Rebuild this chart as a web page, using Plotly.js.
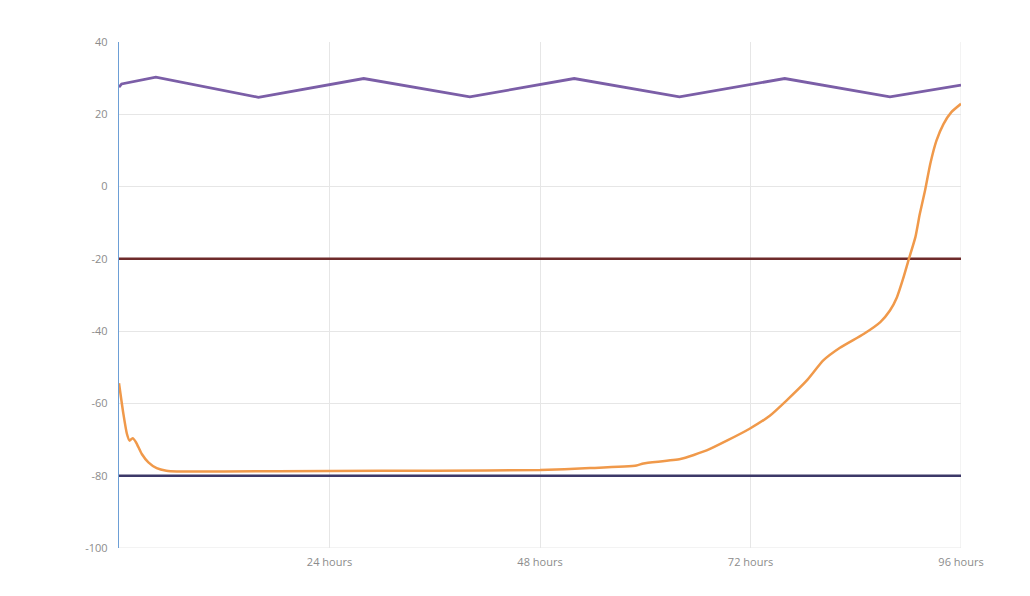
<!DOCTYPE html>
<html>
<head>
<meta charset="utf-8">
<script src="https://cdn.plot.ly/plotly-3.0.1.min.js"></script>
<style>
  html, body { margin: 0; padding: 0; background: #fff; }
  #chart { width: 1030px; height: 596px; }
</style>
</head>
<body>
<div id="chart"></div>
<script>
'use strict';

/* ============================================================
   DATA
   ============================================================ */
var purpleHours  = [0, 0.3, 4.2, 15.9, 27.9, 40.0, 51.9, 63.9, 75.9, 87.9, 96];
var purpleValues = [27.5, 28.4, 30.3, 24.7, 29.9, 24.8, 29.9, 24.8, 29.9, 24.8, 28.1];

var orangeHours  = [0, 0.5, 0.9, 1.2, 1.55, 1.95, 2.6, 3.35, 4.3, 5.4, 6.6, 12, 24, 36,
                    48, 53.7, 59, 59.8, 64, 67, 69.3, 71.9, 74.2, 76.1, 78.4, 80.3,
                    82.2, 84.9, 86.8, 87.9, 88.7, 89.4, 90.0, 90.8, 91.3, 91.9, 92.5,
                    93.2, 94.0, 94.9, 96];
var orangeValues = [-54.4, -62.9, -68.4, -70.3, -69.6, -70.8, -74, -76.3, -77.9, -78.6,
                    -78.8, -78.8, -78.7, -78.6, -78.4, -77.9, -77.2, -76.6, -75.4, -73,
                    -70.3, -67, -63.4, -59.2, -53.7, -48.1, -44.6, -40.8, -37.5, -34.3,
                    -30.6, -25.5, -20.5, -14, -7.6, -1.1, 6.3, 12.7, 17.3, 20.6, 22.9];

var upperLimit   = -20;
var lowerLimit   = -80;
var rangeHours   = [0, 96];

var tickHours    = [24, 48, 72, 96];
var tickLabels   = ['24 hours', '48 hours', '72 hours', '96 hours'];
var yTicks       = [-100, -80, -60, -40, -20, 0, 20, 40];

/* ============================================================
   CHART
   ============================================================ */
var labelFont = { family: 'Open Sans, sans-serif', size: 11, color: '#8c8c8c' };

Plotly.newPlot('chart', [
  { x: rangeHours, y: [upperLimit, upperLimit], type: 'scatter', mode: 'lines',
    line: { color: '#6e2b2b', width: 2.5 } },
  { x: rangeHours, y: [lowerLimit, lowerLimit], type: 'scatter', mode: 'lines',
    line: { color: '#3c3868', width: 2.5 } },
  { x: orangeHours, y: orangeValues, type: 'scatter', mode: 'lines',
    line: { color: '#f0994a', width: 2.5, shape: 'spline', smoothing: 0.5 } },
  { x: purpleHours, y: purpleValues, type: 'scatter', mode: 'lines',
    line: { color: '#7b5ea7', width: 2.8 } }
], {
  width: 1030, height: 596,
  paper_bgcolor: '#ffffff', plot_bgcolor: '#ffffff',
  margin: { t: 42, r: 69, b: 48, l: 119 },
  showlegend: false,
  xaxis: {
    range: rangeHours,
    tickvals: tickHours, ticktext: tickLabels,
    tickfont: labelFont, ticklabelstandoff: 6,
    showgrid: true, gridcolor: '#e6e6e6', gridwidth: 1,
    zeroline: false, showline: false,
    ticks: '', ticklen: 0
  },
  yaxis: {
    range: [-100, 40],
    tickvals: yTicks,
    ticktext: yTicks.map(function (v) { return String(v); }), // plain hyphen minus
    tickfont: labelFont, ticklabelstandoff: 8,
    showgrid: true, gridcolor: '#e6e6e6', gridwidth: 1,
    zeroline: false,
    showline: true, linecolor: '#6d9fd6', linewidth: 1.2,
    ticks: '', ticklen: 0
  },
  shapes: [
    { type: 'line', xref: 'x', yref: 'paper', x0: 96, x1: 96, y0: 0, y1: 1,
      line: { color: '#e6e6e6', width: 1 }, layer: 'below' },
    { type: 'line', xref: 'paper', yref: 'y', x0: 0, x1: 1, y0: -100, y1: -100,
      line: { color: '#e6e6e6', width: 1 }, layer: 'below' }
  ]
}, { displayModeBar: false, staticPlot: true });
</script>
</body>
</html>
